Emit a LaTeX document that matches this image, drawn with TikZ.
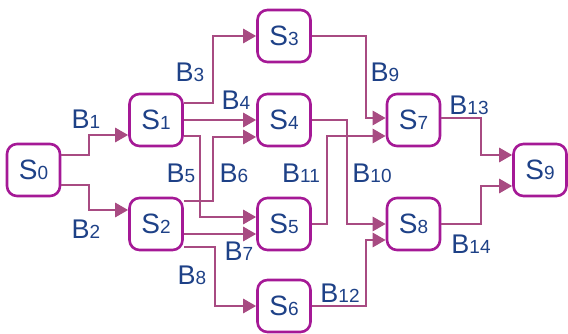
\documentclass[tikz,border=0pt]{standalone}
\usepackage{fontspec}
\setmainfont{Liberation Sans}
\usetikzlibrary{arrows.meta}
\definecolor{boxc}{RGB}{165,25,150}
\definecolor{linec}{RGB}{168,75,130}
\definecolor{txtc}{RGB}{30,65,135}
\newcommand{\Sn}[1]{{\fontsize{28}{28}\selectfont S}{\fontsize{19}{19}\selectfont #1}}
\newcommand{\Bn}[1]{{\fontsize{27}{27}\selectfont B}{\fontsize{19}{19}\selectfont #1}}
\tikzset{
  state/.style={draw=boxc, line width=2.6pt, rounded corners=10pt, minimum width=53pt, minimum height=52pt, text=txtc, inner sep=0pt},
  conn/.style={draw=linec, line width=2.8pt, -{Triangle[length=13pt,width=14pt]}},
  lbl/.style={text=txtc, inner sep=0pt}
}
\begin{document}
\begin{tikzpicture}[x=1pt,y=-1pt]
\useasboundingbox (0,0) rectangle (568,334);
\node[state] (S0) at (33.5,170) {\Sn{0}};
\node[state] (S1) at (156,120) {\Sn{1}};
\node[state] (S2) at (156,224) {\Sn{2}};
\node[state] (S3) at (284,36) {\Sn{3}};
\node[state] (S4) at (284,120) {\Sn{4}};
\node[state] (S5) at (284,224) {\Sn{5}};
\node[state] (S6) at (284,306) {\Sn{6}};
\node[state] (S7) at (413.5,120) {\Sn{7}};
\node[state] (S8) at (413.5,224) {\Sn{8}};
\node[state] (S9) at (540,170) {\Sn{9}};

\draw[conn] ([yshift=15pt]S0.east) -- (89,155) |- ([yshift=-15pt]S1.west);
\draw[conn] ([yshift=-15pt]S0.east) -- (89,185) |- ([yshift=14pt]S2.west);
\draw[conn] ([yshift=17pt]S1.east) -- (213,103) |- (S3.west);
\draw[conn] (S1.east) -- (S4.west);
\draw[conn] ([yshift=-16pt]S1.east) -- (200,136) |- ([yshift=7pt]S5.west);
\draw[conn] ([yshift=23pt]S2.east) -- (213,201) |- ([yshift=-17pt]S4.west);
\draw[conn] ([yshift=-10pt]S2.east) -- ([yshift=-10pt]S5.west);
\draw[conn] ([yshift=-23pt]S2.east) -- (215,247) |- (S6.west);
\draw[conn] (S3.east) -- (366,36) |- ([yshift=2pt]S7.west);
\draw[conn] (S4.east) -- (347,120) |- (S8.west);
\draw[conn] (S5.east) -- (327,224) |- ([yshift=-16pt]S7.west);
\draw[conn] (S6.east) -- (366,306) |- ([yshift=-16pt]S8.west);
\draw[conn] ([yshift=2pt]S7.east) -- (481,118) |- ([yshift=15pt]S9.west);
\draw[conn] (S8.east) -- (481,224) |- ([yshift=-16pt]S9.west);

\node[lbl] (L1) at (86,119) {\Bn{1}};
\node[lbl] (L2) at (86,229) {\Bn{2}};
\node[lbl] (L3) at (190,72) {\Bn{3}};
\node[lbl] (L4) at (236,100) {\Bn{4}};
\node[lbl] (L5) at (181,173) {\Bn{5}};
\node[lbl] (L6) at (234,173) {\Bn{6}};
\node[lbl] (L7) at (239,251) {\Bn{7}};
\node[lbl] (L8) at (192,275) {\Bn{8}};
\node[lbl] (L9) at (385,72) {\Bn{9}};
\node[lbl] (L10) at (372,173) {\Bn{10}};
\node[lbl] (L11) at (301,173) {\Bn{11}};
\node[lbl] (L12) at (340,293) {\Bn{12}};
\node[lbl] (L13) at (469,105) {\Bn{13}};
\node[lbl] (L14) at (471,244) {\Bn{14}};
\end{tikzpicture}
\end{document}
